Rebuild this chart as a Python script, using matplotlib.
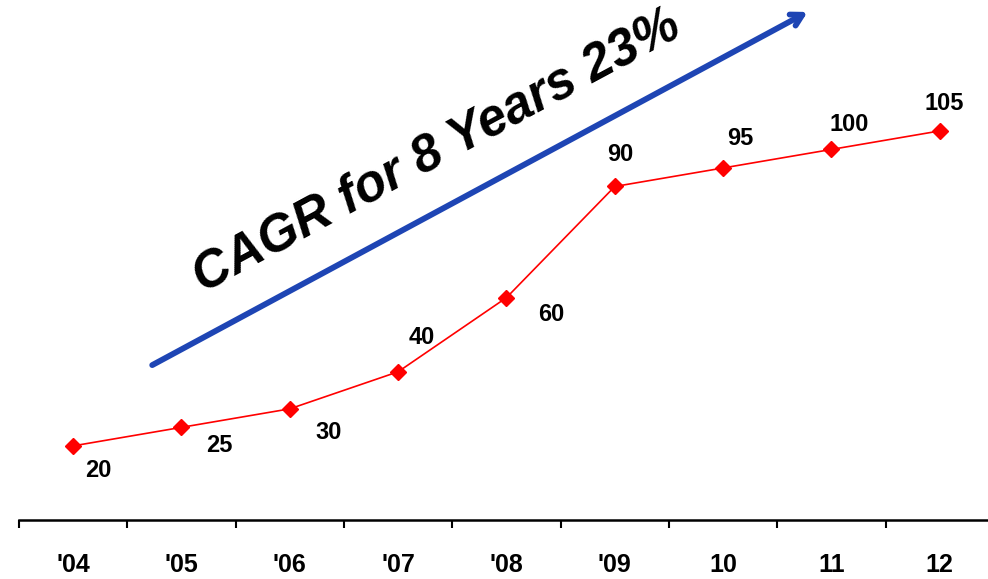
import numpy as np
import matplotlib.pyplot as plt

plt.rcParams['font.family'] = ['Liberation Sans', 'DejaVu Sans']

# years and values
years = ["'04", "'05", "'06", "'07", "'08", "'09", "10", "11", "12"]
values = [20, 25, 30, 40, 60, 90, 95, 100, 105]
# label offsets (points) from each marker
label_dx = [18, 27, 28, 17, 32, 4, 12, 13, 3]
label_dy = [-18, -13, -17, 25, -12, 23, 21, 18, 20]

fig = plt.figure(figsize=(9.88, 5.79), dpi=100)
ax = fig.add_axes([0.0192, 0.1019, 0.9868, 0.896])

x = np.arange(len(years))
ax.plot(x, values, color='#FF0000', lw=1.2, marker='D', markersize=8.5,
        markeredgecolor='#FF0000', markerfacecolor='#FF0000')

for xi, v, dx, dy in zip(x, values, label_dx, label_dy):
    ax.annotate(str(v), (xi, v), xytext=(dx, dy), textcoords='offset points',
                ha='center', va='center', fontsize=17, fontweight='bold')

# growth arrow with its caption
ax.annotate('', xy=(6.78, 137.1), xytext=(0.73, 41.8),
            arrowprops=dict(arrowstyle='->,head_length=0.8,head_width=0.45',
                            color='#1E45B4', lw=4.2, shrinkA=0, shrinkB=0))
ax.text(3.36, 99.5, 'CAGR for 8 Years 23%', rotation=28.3,
        rotation_mode='anchor', ha='center', va='center',
        fontsize=37, fontweight='bold', fontstyle='italic')

ax.set_xlim(-0.5, 8.5)
ax.set_ylim(0, 140)
ax.set_xticks(np.arange(-0.5, 9, 1))
ax.set_xticklabels([])
ax.set_xticks(x, minor=True)
ax.set_xticklabels(years, minor=True, fontsize=18, fontweight='bold')
ax.tick_params(axis='x', which='major', direction='out', length=6, width=1.5)
ax.tick_params(axis='x', which='minor', length=0, pad=24)
ax.set_yticks([])
for s in ['left', 'top', 'right']:
    ax.spines[s].set_visible(False)
ax.spines['bottom'].set_linewidth(1.8)

plt.savefig('out.png', dpi=100)
